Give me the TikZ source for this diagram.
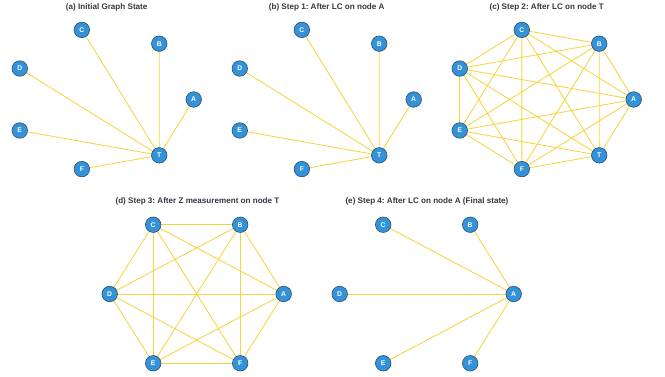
\documentclass[tikz,border=0pt]{standalone}
\usepackage{fontspec}
\setmainfont{Liberation Sans}
\frenchspacing
\definecolor{edgegold}{RGB}{246,212,64}
\definecolor{nodeblue}{RGB}{52,146,216}
\definecolor{nodeline}{RGB}{44,78,110}
\definecolor{titlegray}{RGB}{50,55,65}
\tikzset{
  qubit/.style={circle, fill=nodeblue, draw=nodeline, line width=0.6pt,
    minimum size=15.5pt, inner sep=0pt, text=white, font=\bfseries\fontsize{6.8}{7}\selectfont},
  bond/.style={draw=edgegold, line width=0.85pt},
  paneltitle/.style={font=\bfseries\fontsize{8.1}{9}\selectfont, text=titlegray},
}
% heptagon layout (ellipse radii 91.5 x 71.4), angle 0 = A
\newcommand{\heptnodes}[3]{%
  \foreach \lab/\k in {A/0,B/1,C/2,D/3,E/4,F/5,T/6}{
    \coordinate (#1\lab) at ({#2+91.5*cos(\k*360/7)},{#3-71.4*sin(\k*360/7)});
  }}
% hexagon layout (ellipse radii 87 x 80), angle 0 = A
\newcommand{\hexnodes}[3]{%
  \foreach \lab/\k in {A/0,B/1,C/2,D/3,E/4,F/5}{
    \coordinate (#1\lab) at ({#2+87*cos(\k*60)},{#3-80*sin(\k*60)});
  }}
\begin{document}
\begin{tikzpicture}[x=1pt,y=-1pt]
\useasboundingbox (0,0) rectangle (665,377);

% ---------- (a) initial star graph ----------
\heptnodes{a}{102.2}{99.5}
\node[paneltitle] at (106.7,7.5) {(a) Initial Graph State};
\foreach \n in {A,B,C,D,E,F} \draw[bond] (aT) -- (a\n);
\foreach \n in {A,B,C,D,E,F,T} \node[qubit] (na\n) at (a\n) {\n};

% ---------- (b) after LC on A ----------
\heptnodes{b}{322.2}{99.5}
\node[paneltitle] at (326.7,7.5) {(b) Step 1: After LC on node A};
\foreach \n in {A,B,C,D,E,F} \draw[bond] (bT) -- (b\n);
\foreach \n in {A,B,C,D,E,F,T} \node[qubit] (nb\n) at (b\n) {\n};

% ---------- (c) after LC on T: complete graph ----------
\heptnodes{c}{542.2}{99.5}
\node[paneltitle] at (546.7,7.5) {(c) Step 2: After LC on node T};
\foreach \u/\vs in {A/{B,C,D,E,F,T},B/{C,D,E,F,T},C/{D,E,F,T},D/{E,F,T},E/{F,T},F/{T}}
  \foreach \v in \vs \draw[bond] (c\u) -- (c\v);
\foreach \n in {A,B,C,D,E,F,T} \node[qubit] (nc\n) at (c\n) {\n};

% ---------- (d) after Z measurement on T ----------
\hexnodes{d}{196.7}{294}
\node[paneltitle] at (197.5,201.7) {(d) Step 3: After Z measurement on node T};
\foreach \u/\vs in {A/{B,C,D,E,F},B/{C,D,E,F},C/{D,E,F},D/{E,F},E/{F}}
  \foreach \v in \vs \draw[bond] (d\u) -- (d\v);
\foreach \n in {A,B,C,D,E,F} \node[qubit] (nd\n) at (d\n) {\n};

% ---------- (e) after LC on A: final star ----------
\hexnodes{e}{426.7}{294}
\node[paneltitle] at (427,201.7) {(e) Step 4: After LC on node A (Final state)};
\foreach \n in {B,C,D,E,F} \draw[bond] (eA) -- (e\n);
\foreach \n in {A,B,C,D,E,F} \node[qubit] (ne\n) at (e\n) {\n};
\end{tikzpicture}
\end{document}
